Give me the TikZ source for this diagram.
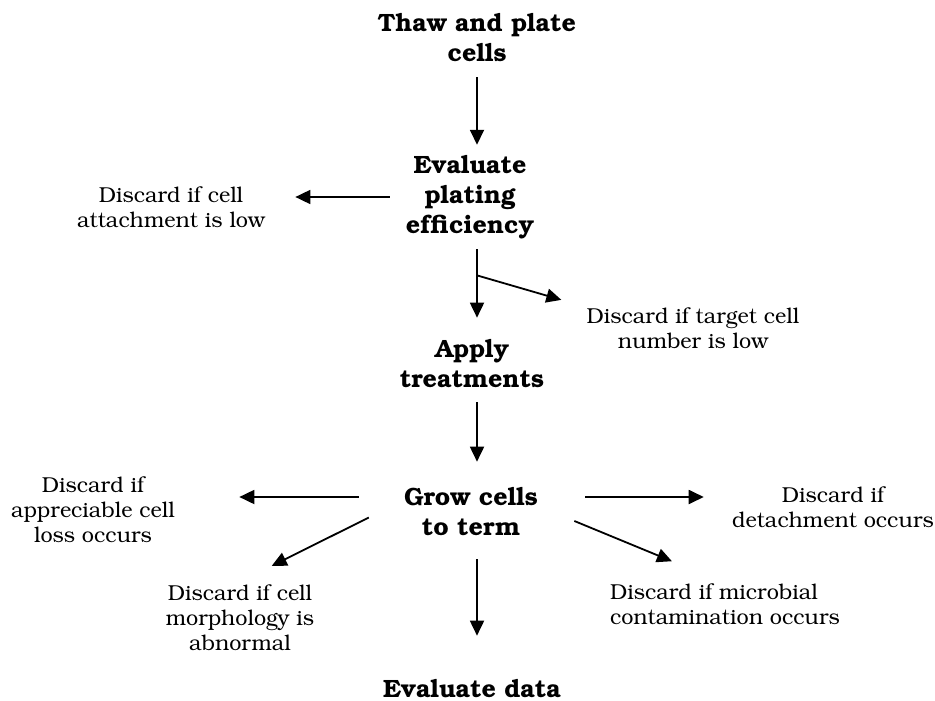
\documentclass[tikz,border=0pt]{standalone}
\usepackage[T1]{fontenc}
\usepackage{bookman}
\usetikzlibrary{arrows.meta,calc,positioning}
\tikzset{
  stage/.style={font=\fontsize{12.5}{15}\selectfont\bfseries,align=center,inner sep=0pt},
  discard/.style={font=\fontsize{10.8}{12.5}\selectfont,align=center,inner sep=0pt},
  flow/.style={line width=0.9pt,-{Triangle[length=7.5pt,width=7pt]}}
}

\begin{document}
\begin{tikzpicture}[x=0.5pt,y=-0.5pt]
\useasboundingbox (0,0) rectangle (935,700);
% main steps
\node[stage] (thaw) at (477,38) {Thaw and plate\\cells};
\node[stage] (epe) at (470,197) {Evaluate\\plating\\efficiency};
\node[stage] (apply) at (472,364) {Apply\\treatments};
\node[stage] (grow) at (471,512) {Grow cells\\to term};
\node[stage] (evdata) at (472,689) {Evaluate data};
% discard notes
\node[discard] (attach) at (171,207) {Discard if cell\\attachment is low};
\node[discard] (target) at (693,328) {Discard if target cell\\number is low};
\node[discard] (loss) at (93,510) {Discard if\\appreciable cell\\loss occurs};
\node[discard] (morph) at (240,618) {Discard if cell\\morphology is\\abnormal};
\node[discard] (detach) at (833,507) {Discard if\\detachment occurs};
\node[discard,align=left] (microbe) at (725,604) {Discard if microbial\\contamination occurs};
% arrows down the middle
\draw[flow,shorten <=7.5pt,shorten >=5pt] (thaw.south) -- (epe.north -| thaw);
\draw[flow,shorten <=5pt,shorten >=11pt] (epe.south -| thaw) -- (apply.north -| thaw);
\draw[flow,shorten <=7pt,shorten >=13pt] (apply.south -| thaw) -- (grow.north -| thaw);
\draw[flow,shorten <=11.5pt,shorten >=22pt] (grow.south -| thaw) -- (evdata.north -| thaw);
% side branches
\draw[flow,shorten <=8pt,shorten >=15pt] (epe.west) -- (epe.west -| attach.east);
\coordinate (fork) at ($(epe.south -| thaw)!0.36!(apply.north -| thaw)$);
\draw[flow,shorten >=13pt] (fork) -- (target.north west);
\coordinate (growL) at ([yshift=7.5pt]grow.west);
\coordinate (growR) at ([yshift=7.5pt]grow.east);
\draw[flow,shorten <=22.5pt,shorten >=32pt] (growL) -- (growL -| loss.east);
\draw[flow,shorten <=23.5pt,shorten >=14pt] (growR) -- (growR -| detach.west);
\draw[flow,shorten <=19.5pt,shorten >=21pt] (grow.170) -- (morph.100);
\draw[flow,shorten <=19.5pt,shorten >=28.7pt] (grow.5) -- (microbe.north);
\end{tikzpicture}
\end{document}
